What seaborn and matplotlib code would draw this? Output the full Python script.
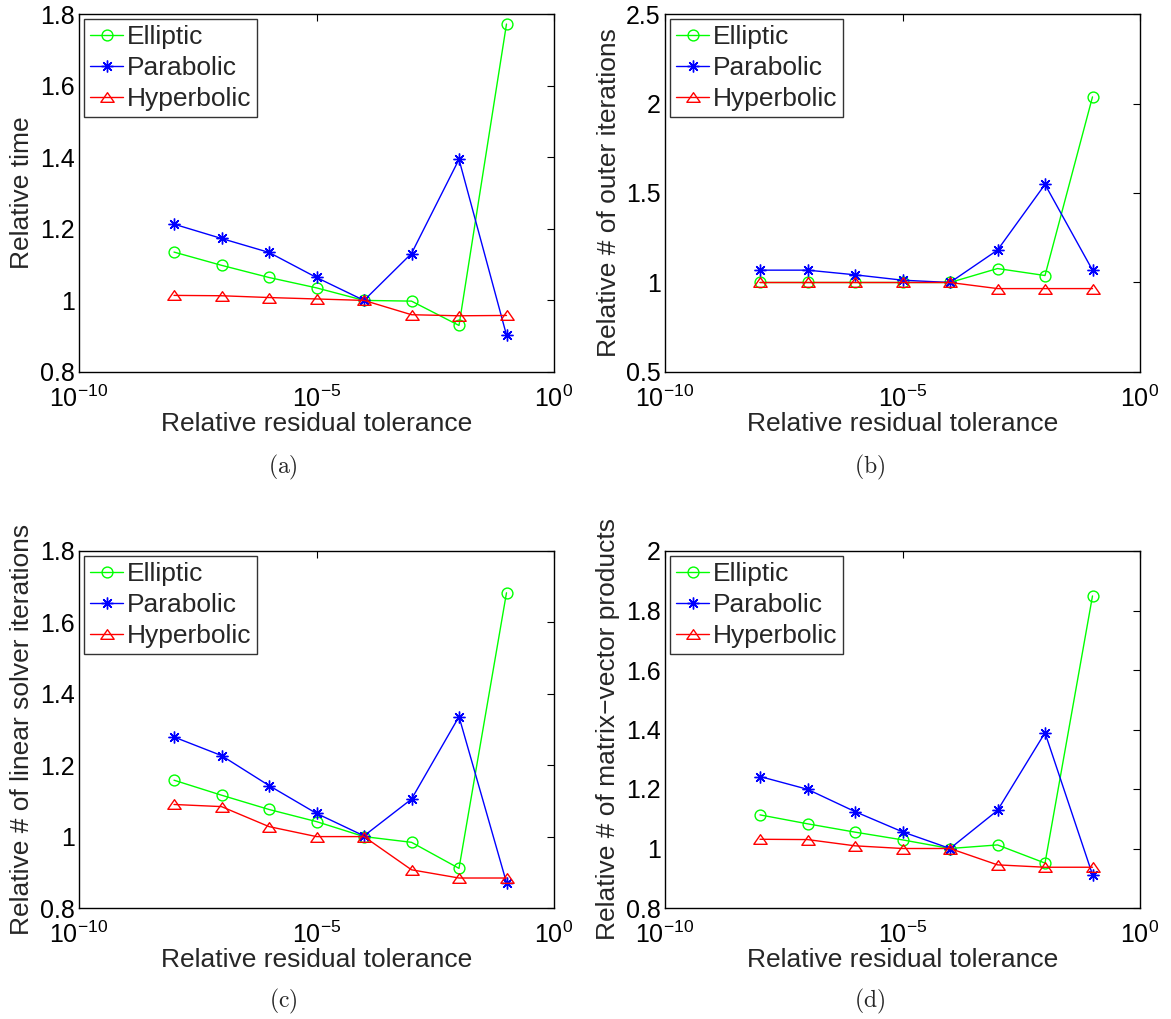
import numpy as np
import pandas as pd
import matplotlib
matplotlib.use("Agg")
import matplotlib.pyplot as plt
import seaborn as sns
from matplotlib.ticker import FixedLocator, FuncFormatter, NullLocator
from matplotlib.path import Path

# ---------------- data ----------------
tolerance = [1e-8, 1e-7, 1e-6, 1e-5, 1e-4, 1e-3, 1e-2, 1e-1]
series_names = ["Elliptic", "Parabolic", "Hyperbolic"]

time_elliptic = [1.135, 1.098, 1.064, 1.035, 1.000, 0.998, 0.930, 1.772]
time_parabolic = [1.213, 1.173, 1.134, 1.064, 1.000, 1.131, 1.394, 0.903]
time_hyperbolic = [1.014, 1.013, 1.008, 1.004, 1.000, 0.960, 0.957, 0.958]

outer_elliptic = [1.000, 1.000, 1.000, 1.000, 1.000, 1.078, 1.039, 2.037]
outer_parabolic = [1.069, 1.069, 1.043, 1.013, 1.000, 1.181, 1.548, 1.069]
outer_hyperbolic = [1.000, 1.000, 1.000, 1.000, 1.000, 0.966, 0.966, 0.966]

linear_elliptic = [1.158, 1.116, 1.076, 1.042, 1.000, 0.984, 0.911, 1.683]
linear_parabolic = [1.279, 1.227, 1.143, 1.065, 1.002, 1.105, 1.336, 0.871]
linear_hyperbolic = [1.090, 1.084, 1.028, 1.000, 1.000, 0.907, 0.884, 0.884]

matvec_elliptic = [1.113, 1.083, 1.055, 1.029, 1.000, 1.012, 0.951, 1.849]
matvec_parabolic = [1.242, 1.199, 1.124, 1.056, 1.000, 1.128, 1.389, 0.912]
matvec_hyperbolic = [1.031, 1.030, 1.009, 1.000, 1.000, 0.945, 0.937, 0.937]

ylabels = ["Relative time", "Relative # of outer iterations",
           "Relative # of linear solver iterations",
           "Relative # of matrix\u2212vector products"]
captions = ["(a)", "(b)", "(c)", "(d)"]
yticks_list = [[0.8, 1.0, 1.2, 1.4, 1.6, 1.8],
               [0.5, 1.0, 1.5, 2.0, 2.5],
               [0.8, 1.0, 1.2, 1.4, 1.6, 1.8],
               [0.8, 1.0, 1.2, 1.4, 1.6, 1.8, 2.0]]
xticks = [1e-10, 1e-5, 1e0]

panels = [
    [time_elliptic, time_parabolic, time_hyperbolic],
    [outer_elliptic, outer_parabolic, outer_hyperbolic],
    [linear_elliptic, linear_parabolic, linear_hyperbolic],
    [matvec_elliptic, matvec_parabolic, matvec_hyperbolic],
]

# MATLAB-like wide triangle marker
tri = Path([(0, 0.72), (-1, -0.72), (1, -0.72), (0, 0.72)],
           [Path.MOVETO, Path.LINETO, Path.LINETO, Path.CLOSEPOLY])
colors = ["#00ff00", "#0000ff", "#ff0000"]
markers = ["o", (8, 2, 0), tri]
msizes = [7.8, 8.5, 9.6]

# ---------------- style ----------------
sns.set_style("white")
plt.rcParams["font.family"] = ["Liberation Sans", "DejaVu Sans"]
plt.rcParams["mathtext.fontset"] = "custom"
plt.rcParams["mathtext.rm"] = "Liberation Sans"
plt.rcParams["mathtext.it"] = "Liberation Sans:italic"
plt.rcParams["mathtext.bf"] = "Liberation Sans:bold"

W, H = 1171, 1019
fig = plt.figure(figsize=(W / 100, H / 100), dpi=100)

# axes boxes in pixels: left, right, top, bottom
boxes = [(79, 554, 14, 372), (665, 1140, 14, 372),
         (79, 554, 551, 908), (665, 1140, 551, 908)]
cap_pos = [(283, 467), (870, 467), (283, 1001), (870, 1001)]

for i in range(4):
    l, r, t, b = boxes[i]
    ax = fig.add_axes([l / W, 1 - b / H, (r - l) / W, (b - t) / H])
    ax.set_xscale("log")
    for name, vals, c, m, ms in zip(series_names, panels[i], colors, markers, msizes):
        df = pd.DataFrame({"tol": tolerance, "val": vals})
        sns.lineplot(data=df, x="tol", y="val", ax=ax, color=c, marker=m,
                     markersize=ms, markerfacecolor="none", markeredgecolor=c,
                     markeredgewidth=1.0, linewidth=1.0, label=name)
    yt = yticks_list[i]
    ax.set_xlim(1e-10, 1e0)
    ax.set_ylim(yt[0], yt[-1])
    ax.xaxis.set_major_locator(FixedLocator(xticks))
    ax.xaxis.set_minor_locator(NullLocator())
    ax.yaxis.set_major_locator(FixedLocator(yt))
    ax.yaxis.set_major_formatter(FuncFormatter(lambda v, p: "%g" % v))
    ax.tick_params(direction="in", length=5, width=0.8, top=True, right=True,
                   labelsize=18, colors="black", pad=3)
    ax.tick_params(axis="x", pad=10)
    for s in ax.spines.values():
        s.set_color("black")
        s.set_linewidth(1.0)
        s.set_visible(True)
    ax.set_xlabel("Relative residual tolerance", fontsize=19, labelpad=0)
    ax.set_ylabel(ylabels[i], fontsize=19, labelpad=4)
    leg = ax.legend(loc="upper left", fontsize=19, frameon=True, fancybox=False,
                    borderpad=0.22, labelspacing=0.26, handlelength=1.25,
                    handletextpad=0.15, borderaxespad=0.2)
    leg.get_frame().set_edgecolor("black")
    leg.get_frame().set_linewidth(1.0)
    cx, cy = cap_pos[i]
    fig.text(cx / W, 1 - cy / H, r"$\mathrm{%s}$" % captions[i], ha="center",
             va="center", fontsize=17, math_fontfamily="cm")

fig.savefig("out.png", dpi=100)
